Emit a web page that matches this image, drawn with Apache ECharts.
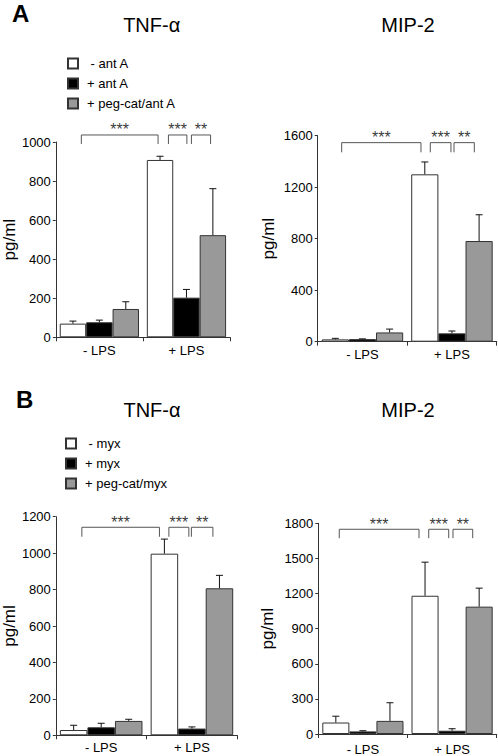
<!DOCTYPE html>
<html>
<head>
<meta charset="utf-8">
<script src="https://cdn.jsdelivr.net/npm/echarts@6/dist/echarts.min.js"></script>
<style>
html,body{margin:0;padding:0;background:#fff;}
#chart{width:498px;height:756px;}
</style>
</head>
<body>
<div id="chart"></div>
<script>
// ---------------- data ----------------
const categories = ['- LPS', '+ LPS'];
const namesA = [' - ant A', '+ ant A', '+ peg-cat/ant A'];
const namesB = [' - myx', '+ myx', '+ peg-cat/myx'];

// Panel A, TNF-alpha (mean, SD)
const aTnfWhite = [70, 908];   const aTnfWhiteSd = [13, 19];
const aTnfBlack = [77, 203];   const aTnfBlackSd = [11, 42];
const aTnfGray  = [145, 523];  const aTnfGraySd  = [37, 238];
// Panel A, MIP-2
const aMipWhite = [18, 1300];  const aMipWhiteSd = [8, 96];
const aMipBlack = [20, 65];    const aMipBlackSd = [2, 18];
const aMipGray  = [72, 782];   const aMipGraySd  = [26, 204];
// Panel B, TNF-alpha
const bTnfWhite = [29, 997];   const bTnfWhiteSd = [26, 80];
const bTnfBlack = [44, 37];    const bTnfBlackSd = [22, 9];
const bTnfGray  = [79, 807];   const bTnfGraySd  = [9, 71];
// Panel B, MIP-2
const bMipWhite = [98, 1181];  const bMipWhiteSd = [54, 287];
const bMipBlack = [22, 28];    const bMipBlackSd = [6, 17];
const bMipGray  = [112, 1088]; const bMipGraySd  = [155, 158];

// y-axis ticks
const aTnfTicks = [0, 200, 400, 600, 800, 1000];
const aMipTicks = [0, 400, 800, 1200, 1600];
const bTnfTicks = [0, 200, 400, 600, 800, 1000, 1200];
const bMipTicks = [0, 300, 600, 900, 1200, 1500, 1800];

// significance annotations: [from, to] in category units (0..2), label
const sigLabels = ['***', '***', '**'];
const aTnfSpans = [[0.293, 1.174], [1.293, 1.505], [1.557, 1.777]];
const aMipSpans = [[0.268, 1.154], [1.258, 1.489], [1.523, 1.750]];
const bTnfSpans = [[0.287, 1.142], [1.246, 1.466], [1.494, 1.731]];
const bMipSpans = [[0.235, 1.129], [1.238, 1.462], [1.510, 1.731]];
// bracket heights [top, leg end] in pg/ml
const aTnfLevel = [1036, 990];
const aMipLevel = [1546, 1471];
const bTnfLevel = [1142, 1090];
const bMipLevel = [1749, 1673];

// ---------------- layout ----------------
const FONT = 'Liberation Sans, Arial, Helvetica, sans-serif';
const fills = ['#ffffff', '#000000', '#999999'];
const GAP = 0.09;

const panels = [
  {grid:{left:50.7, top:142, width:179.3, height:195.3}, ticks:aTnfTicks,
   means:[aTnfWhite, aTnfBlack, aTnfGray], sds:[aTnfWhiteSd, aTnfBlackSd, aTnfGraySd],
   names:namesA, spans:aTnfSpans, level:aTnfLevel, nameGap:35, catMargin:7},
  {grid:{left:317.7, top:135.7, width:179, height:206}, ticks:aMipTicks,
   means:[aMipWhite, aMipBlack, aMipGray], sds:[aMipWhiteSd, aMipBlackSd, aMipGraySd],
   names:namesA, spans:aMipSpans, level:aMipLevel, nameGap:41, catMargin:6},
  {grid:{left:51.7, top:516.7, width:185.6, height:218.6}, ticks:bTnfTicks,
   means:[bTnfWhite, bTnfBlack, bTnfGray], sds:[bTnfWhiteSd, bTnfBlackSd, bTnfGraySd],
   names:namesB, spans:bTnfSpans, level:bTnfLevel, nameGap:36, catMargin:5.5},
  {grid:{left:318.3, top:523.3, width:178.4, height:213.4}, ticks:bMipTicks,
   means:[bMipWhite, bMipBlack, bMipGray], sds:[bMipWhiteSd, bMipBlackSd, bMipGraySd],
   names:namesB, spans:bMipSpans, level:bMipLevel, nameGap:42, catMargin:9}
];

function errRender(k) {
  return function (params, api) {
    const cat = api.value(0);
    const lo = api.coord([cat, api.value(1)]);
    const hi = api.coord([cat, api.value(2)]);
    const catW = api.size([1, 0])[0];
    const bw = catW * (1 - GAP) / 3;
    const x = lo[0] + (k - 1) * bw;
    const st = {stroke:'#111', lineWidth:1, fill:null};
    return {type:'group', children:[
      {type:'line', shape:{x1:x, y1:lo[1], x2:x, y2:hi[1]}, style:st},
      {type:'line', shape:{x1:x - 3.5, y1:hi[1], x2:x + 3.5, y2:hi[1]}, style:st}
    ]};
  };
}

const grid = [], xAxis = [], yAxis = [], series = [];
panels.forEach((p, i) => {
  grid.push(Object.assign({containLabel:false}, p.grid));
  const t = p.ticks;
  xAxis.push({
    type:'category', gridIndex:i, data:categories,
    axisLine:{lineStyle:{color:'#333', width:1}},
    axisTick:{show:true, length:4, alignWithLabel:false, lineStyle:{color:'#333'}},
    axisLabel:{fontFamily:FONT, fontSize:13, color:'#000', margin:p.catMargin},
    splitLine:{show:false}
  });
  xAxis.push({type:'value', gridIndex:i, min:0, max:2, show:false});
  yAxis.push({
    type:'value', gridIndex:i, min:t[0], max:t[t.length - 1], interval:t[1] - t[0],
    name:'pg/ml', nameLocation:'middle', nameGap:p.nameGap,
    nameTextStyle:{fontFamily:FONT, fontSize:17, color:'#000'},
    axisLine:{show:true, lineStyle:{color:'#333', width:1}},
    axisTick:{show:true, length:3, lineStyle:{color:'#333'}},
    axisLabel:{fontFamily:FONT, fontSize:13, color:'#000', margin:5,
               formatter:(v) => String(v)},
    splitLine:{show:false}
  });
  p.means.forEach((m, k) => {
    series.push({
      type:'bar', name:p.names[k], xAxisIndex:2 * i, yAxisIndex:i, data:m,
      barGap:'0%', barCategoryGap:(GAP * 100) + '%',
      itemStyle:{color:fills[k], borderColor:'#333', borderWidth:1},
      emphasis:{disabled:true}, silent:true, z:2
    });
  });
  p.means.forEach((m, k) => {
    series.push({
      type:'custom', xAxisIndex:2 * i, yAxisIndex:i, z:3, silent:true,
      renderItem:errRender(k),
      data:m.map((v, j) => [j, v, v + p.sds[k][j]])
    });
  });
  p.spans.forEach((s, b) => {
    series.push({
      type:'line', xAxisIndex:2 * i + 1, yAxisIndex:i, clip:false, silent:true,
      symbol:'none', lineStyle:{color:'#555', width:1}, z:4,
      data:[[s[0], p.level[1]], [s[0], p.level[0]], [s[1], p.level[0]], [s[1], p.level[1]]]
    });
    series.push({
      type:'scatter', xAxisIndex:2 * i + 1, yAxisIndex:i, clip:false, silent:true,
      symbolSize:1, itemStyle:{color:'rgba(0,0,0,0)'}, z:5,
      label:{show:true, position:'top', distance:0, offset:[0, 3.5], formatter:sigLabels[b],
             fontFamily:FONT, fontSize:16, color:'#000'},
      data:[[(s[0] + s[1]) / 2, p.level[0]]]
    });
  });
});

const legendCommon = {
  orient:'vertical', icon:'rect', itemWidth:10, itemHeight:10, itemGap:7,
  selectedMode:false,
  textStyle:{fontFamily:FONT, fontSize:13, color:'#000', padding:[0, 0, 0, 4]}
};

const txt = (text, x, y, size, bold, align) => ({
  type:'text', x:x, y:y, silent:true,
  style:{text:text, fontFamily:FONT, fontSize:size, fontWeight:bold ? 'bold' : 'normal',
         fill:'#000', align:align, verticalAlign:'middle'}
});

const chart = echarts.init(document.getElementById('chart'), null, {renderer:'svg'});
chart.setOption({
  animation:false,
  backgroundColor:'#fff',
  grid:grid, xAxis:xAxis, yAxis:yAxis, series:series,
  legend:[
    Object.assign({data:namesA, left:62, top:52}, legendCommon),
    Object.assign({data:namesB, left:60, top:432}, legendCommon)
  ],
  graphic:[
    txt('A', 12, 13.5, 24, true, 'left'),
    txt('TNF-\u03b1', 151.7, 24.5, 20, false, 'center'),
    txt('MIP-2', 408, 25.3, 20, false, 'center'),
    txt('B', 16, 399.2, 24, true, 'left'),
    txt('TNF-\u03b1', 152, 410, 20, false, 'center'),
    txt('MIP-2', 408, 410, 20, false, 'center')
  ]
});
</script>
</body>
</html>
